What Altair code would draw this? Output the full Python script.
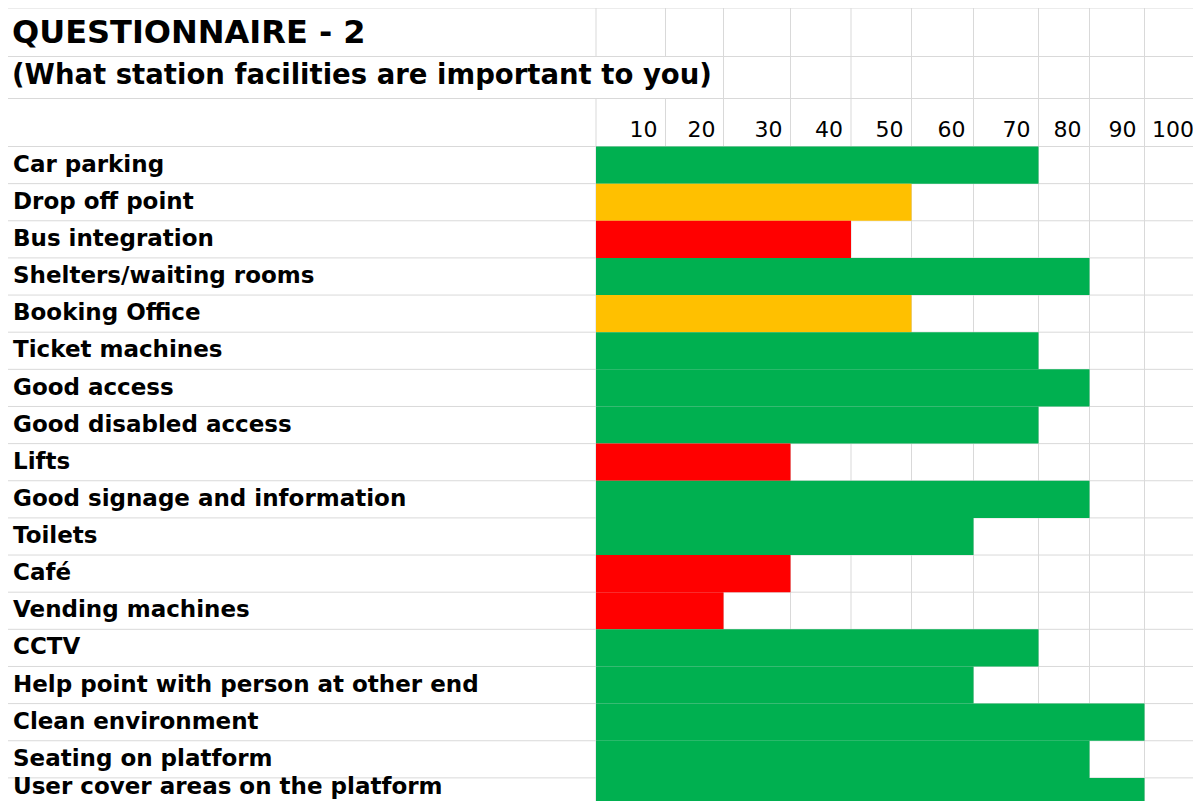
import altair as alt
import pandas as pd

# ---------------- data ----------------
title_text = "QUESTIONNAIRE - 2"
subtitle_text = "(What station facilities are important to you)"

facilities = [
    "Car parking",
    "Drop off point",
    "Bus integration",
    "Shelters/waiting rooms",
    "Booking Office",
    "Ticket machines",
    "Good access",
    "Good disabled access",
    "Lifts",
    "Good signage and information",
    "Toilets",
    "Café",
    "Vending machines",
    "CCTV",
    "Help point with person at other end",
    "Clean environment",
    "Seating on platform",
    "User cover areas on the platform",
]
scores = [70, 50, 40, 80, 50, 70, 80, 70, 30, 80, 60, 30, 20, 70, 60, 90, 80, 90]
ratings = ["high", "medium", "low", "high", "medium", "high", "high", "high", "low",
           "high", "high", "low", "low", "high", "high", "high", "high", "high"]
tick_values = [10, 20, 30, 40, 50, 60, 70, 80, 90, 100]
rating_levels = ["high", "medium", "low"]
rating_colors = ["#00B050", "#FFC000", "#FF0000"]

# ---------------- layout (spreadsheet grid geometry) ----------------
W, H = 1185, 793
x_domain = [0] + tick_values
x_range = [588, 657.5, 715.5, 782.5, 843, 903.5, 965.5, 1030.5, 1081.5, 1136.5, 1194]
row_h = 37.14
n_rows = len(facilities)
y_domain = [-3, -2, -1] + list(range(0, n_rows + 1))
y_range = [0, 48.5, 90.5] + [138.5 + row_h * i for i in range(n_rows + 1)]

xs = alt.Scale(type="linear", domain=x_domain, range=x_range, nice=False, zero=False)
ys = alt.Scale(type="linear", domain=y_domain, range=y_range, nice=False, zero=False)

GRID = "#D9D9D9"
FONT = "DejaVu Sans"

bars_df = pd.DataFrame({
    "facility": facilities,
    "score": scores,
    "rating": ratings,
    "row": list(range(n_rows)),
})

# grid line segments
vseg = []
for e in x_domain:
    if e in (0, 10):
        vseg.append({"x": e, "y1": -3, "y2": -2})
        vseg.append({"x": e, "y1": -1, "y2": n_rows})
    else:
        vseg.append({"x": e, "y1": -3, "y2": n_rows})
vgrid_df = pd.DataFrame(vseg)
hgrid_df = pd.DataFrame({"y": y_domain})
ticks_df = pd.DataFrame({"tick": tick_values})

vgrid = alt.Chart(vgrid_df).mark_rule(color=GRID, strokeWidth=1).encode(
    x=alt.X("x:Q", scale=xs, axis=None),
    y=alt.Y("y1:Q", scale=ys, axis=None),
    y2="y2:Q",
)
hgrid = alt.Chart(hgrid_df).mark_rule(color=GRID, strokeWidth=1).encode(
    y=alt.Y("y:Q", scale=ys, axis=None),
    x=alt.value(0),
    x2=alt.value(W),
)

bars = alt.Chart(bars_df).transform_calculate(
    row_end="datum.row + 1"
).mark_rect(stroke=None).encode(
    x=alt.X("score:Q", scale=xs, axis=None),
    x2=alt.X2(datum=0),
    y=alt.Y("row:Q", scale=ys, axis=None),
    y2="row_end:Q",
    color=alt.Color("rating:N", scale=alt.Scale(domain=rating_levels, range=rating_colors), legend=None),
)

# the last row is cut by the page edge: lift its label a little so it stays readable
labels = alt.Chart(bars_df).transform_calculate(
    mid=f"datum.row + 0.5 - (datum.row == {n_rows - 1} ? 0.25 : 0)"
).mark_text(
    font=FONT, fontWeight="bold", fontSize=23, align="left", baseline="alphabetic",
    dy=6.6, color="#000000"
).encode(
    x=alt.value(5),
    y=alt.Y("mid:Q", scale=ys, axis=None),
    text="facility:N",
)

ticks = alt.Chart(ticks_df).mark_text(
    font=FONT, fontSize=22, align="right", baseline="alphabetic", dx=-8, dy=14.2,
    color="#000000"
).encode(
    x=alt.X("tick:Q", scale=xs, axis=None),
    y=alt.YDatum(-0.5, type="quantitative", scale=ys, axis=None),
    text=alt.Text("tick:Q"),
)

title = alt.Chart(pd.DataFrame({"t": [title_text]})).mark_text(
    font=FONT, fontWeight="bold", fontSize=32, align="left", baseline="alphabetic",
    dy=10.7, color="#000000"
).encode(
    x=alt.value(4),
    y=alt.YDatum(-2.5, type="quantitative", scale=ys, axis=None),
    text="t:N",
)

subtitle = alt.Chart(pd.DataFrame({"t": [subtitle_text]})).mark_text(
    font=FONT, fontWeight="bold", fontSize=27.5, align="left", baseline="alphabetic",
    dy=6.5, color="#000000"
).encode(
    x=alt.value(4),
    y=alt.YDatum(-1.5, type="quantitative", scale=ys, axis=None),
    text="t:N",
)

chart = alt.layer(vgrid, hgrid, bars, labels, ticks, title, subtitle).properties(
    width=W, height=H, padding=0, autosize=alt.AutoSizeParams(type="none"),
    background="white",
).configure_view(stroke=None)

chart.save("out.html", embed_options={"renderer": "svg", "actions": False})
